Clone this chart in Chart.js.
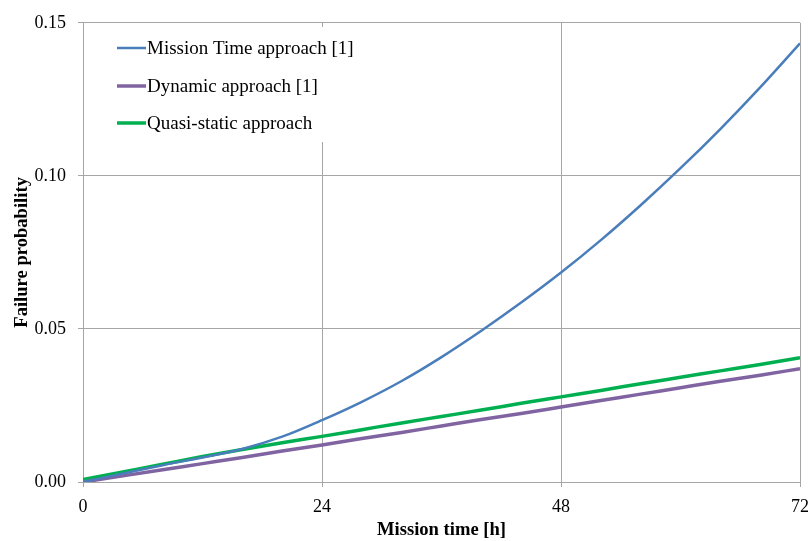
<!DOCTYPE html>
<html>
<head>
<meta charset="utf-8">
<script src="https://cdn.jsdelivr.net/npm/chart.js@4/dist/chart.umd.min.js"></script>
<style>
html,body{margin:0;padding:0;background:#fff;}
#wrap{width:809px;height:541px;}
</style>
</head>
<body>
<div id="wrap"><canvas id="c" width="809" height="541"></canvas></div>
<script>
const hours = [0,4,8,12,16,20,24,28,32,36,40,44,48,52,56,60,64,68,72];
const missionTime = [0,0.0028,0.0055,0.0080,0.0108,0.0148,0.0202,0.0262,0.0330,0.0408,0.0494,0.0586,0.0684,0.0790,0.0904,0.1025,0.1153,0.1289,0.1433];
const dynamicApp = [0,0.0020,0.0040,0.0060,0.0080,0.0101,0.0121,0.0142,0.0162,0.0183,0.0204,0.0224,0.0245,0.0266,0.0287,0.0308,0.0329,0.0349,0.0370];
const quasiStatic = [0.0008,0.0033,0.0058,0.0083,0.0106,0.0128,0.0149,0.0171,0.0193,0.0214,0.0235,0.0257,0.0278,0.0299,0.0321,0.0342,0.0363,0.0384,0.0406];
const seriesNames = ['Mission Time approach [1]','Dynamic approach [1]','Quasi-static approach'];
const xTicks = [0,24,48,72];
const yTicks = [0,0.05,0.10,0.15];

const colors = ['#4a7ebb','#8064a2','#00b050'];
const widths = [2.5,3.5,3.5];
const seriesData = [missionTime, dynamicApp, quasiStatic];

const FONT = '"Liberation Serif","Times New Roman",serif';

const legendPlugin = {
  id:'boxLegend',
  beforeDatasetsDraw(chart){
    const ctx = chart.ctx;
    ctx.save();
    ctx.fillStyle = '#fff';
    ctx.fillRect(100,27,280,115);
    const rows = [48,86,123];
    chart.data.datasets.forEach((ds,i)=>{
      ctx.strokeStyle = ds.borderColor;
      ctx.lineWidth = ds.borderWidth;
      ctx.beginPath();
      ctx.moveTo(117,rows[i]);
      ctx.lineTo(146,rows[i]);
      ctx.stroke();
      ctx.fillStyle = '#000';
      ctx.font = '19px ' + FONT;
      ctx.textBaseline = 'middle';
      ctx.textAlign = 'left';
      ctx.fillText(ds.label,147,rows[i]+1);
    });
    ctx.restore();
  }
};

new Chart(document.getElementById('c'),{
  type:'line',
  data:{
    datasets: seriesNames.map((n,i)=>({
      label:n,
      data: hours.map((h,j)=>({x:h,y:seriesData[i][j]})),
      borderColor:colors[i],
      backgroundColor:colors[i],
      borderWidth:widths[i],
      pointRadius:0,
      cubicInterpolationMode:'monotone',
      fill:false
    }))
  },
  options:{
    responsive:false,
    animation:false,
    layout:{padding:{top:21,right:9,left:0,bottom:0}},
    plugins:{legend:{display:false},tooltip:{enabled:false}},
    scales:{
      x:{
        type:'linear',min:0,max:72,
        afterBuildTicks(s){ s.ticks = xTicks.map(v=>({value:v})); },
        afterFit(s){ s.height = 59; s.paddingRight = 0; s.paddingLeft = 0; },
        grid:{color:'#a6a6a6',lineWidth:1,tickLength:5,drawTicks:true},
        border:{color:'#a6a6a6'},
        ticks:{color:'#000',font:{family:FONT,size:18},padding:9,maxRotation:0,autoSkip:false},
        title:{display:true,text:'Mission time [h]',color:'#000',font:{family:FONT,size:18.6,weight:'bold'},padding:{top:0,bottom:0}}
      },
      y:{
        type:'linear',min:0,max:0.15,
        afterBuildTicks(s){ s.ticks = yTicks.map(v=>({value:v})); },
        afterFit(s){ s.width = 83; },
        grid:{color:'#a6a6a6',lineWidth:1,tickLength:5,drawTicks:true},
        border:{color:'#a6a6a6'},
        ticks:{color:'#000',font:{family:FONT,size:18},padding:12,callback:v=>v.toFixed(2)},
        title:{display:true,text:'Failure probability',color:'#000',font:{family:FONT,size:18.6,weight:'bold'},padding:{top:11,bottom:0}}
      }
    }
  },
  plugins:[legendPlugin]
});
</script>
</body>
</html>
